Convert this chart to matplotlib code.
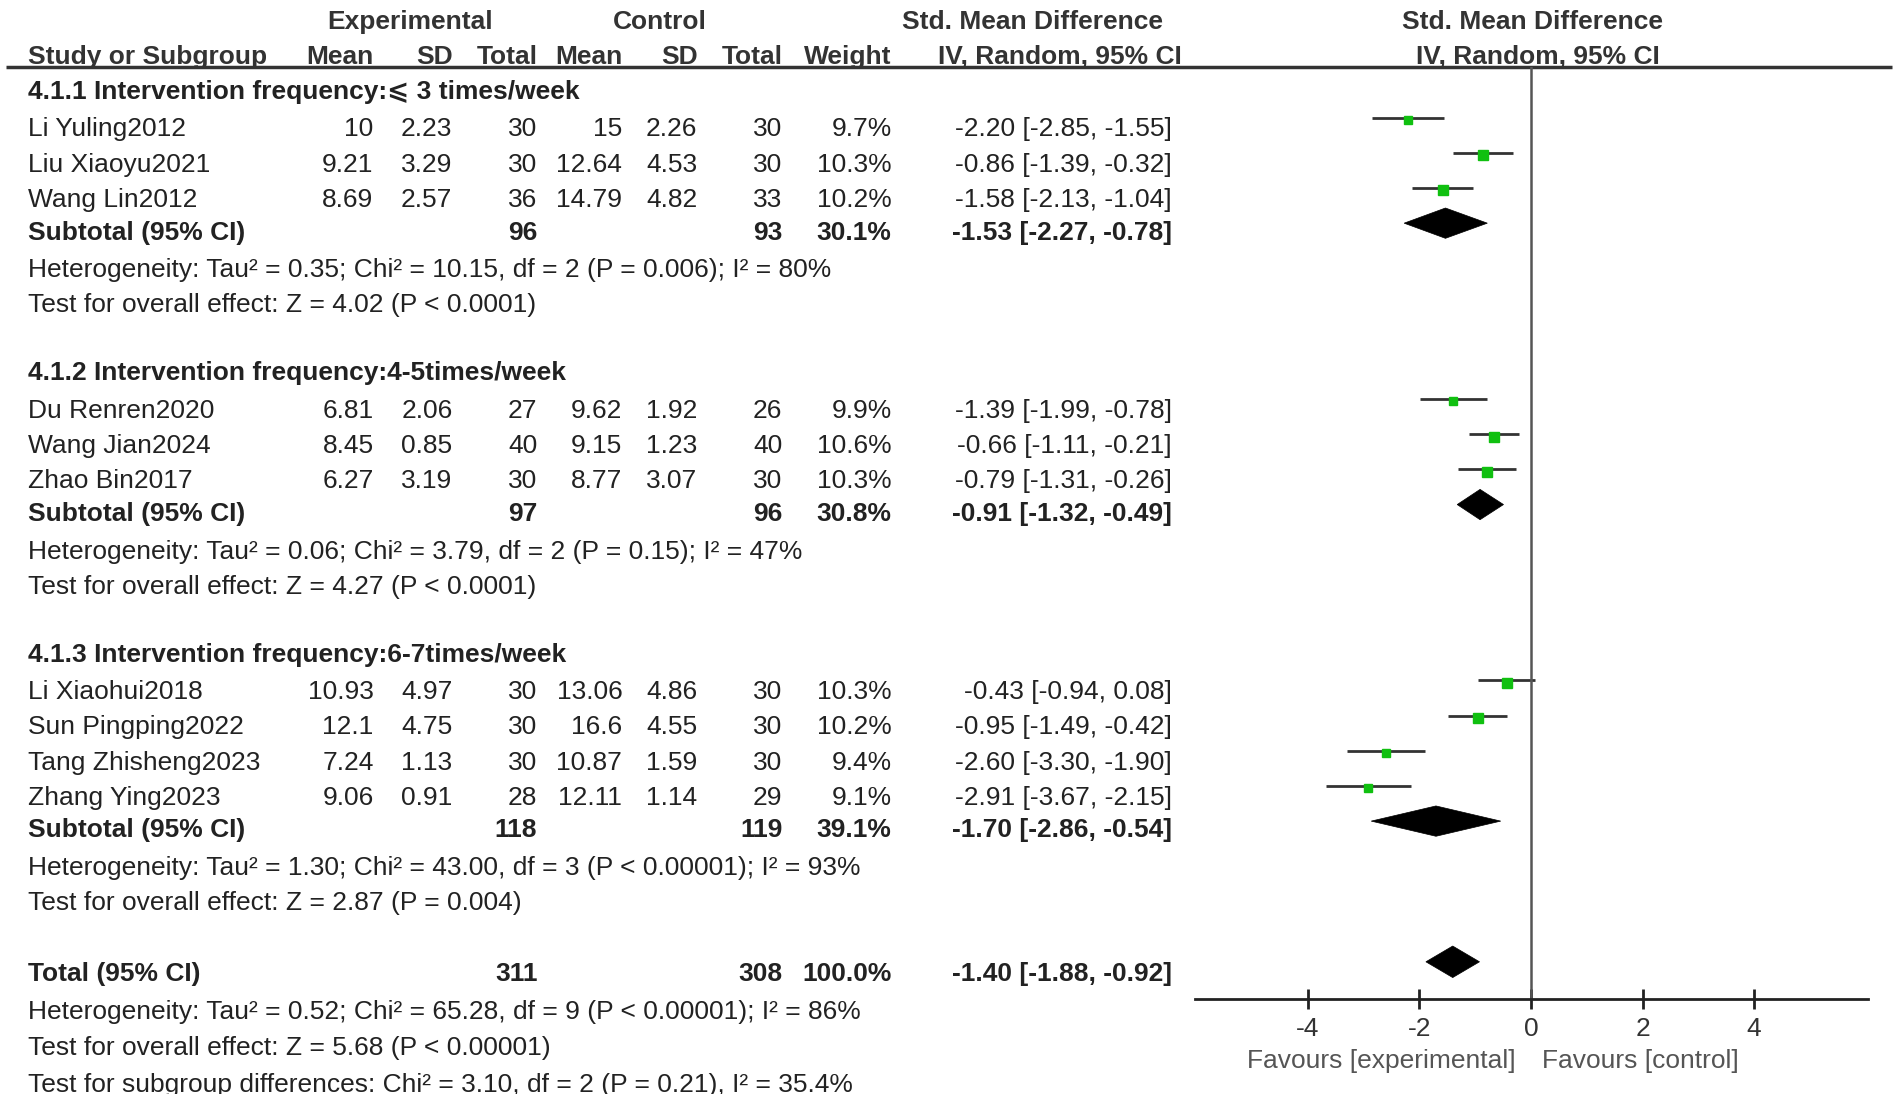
import numpy as np
import matplotlib.pyplot as plt
from matplotlib.patches import Polygon

plt.rcParams['font.family'] = ['Liberation Sans', 'DejaVu Sans']
plt.rcParams['axes.unicode_minus'] = False
FS = 19
TXT = '#222222'
HDR = '#333333'

# ---- data ----
group_names = ["4.1.1 Intervention frequency:\u2a7d 3 times/week",
               "4.1.2 Intervention frequency:4-5times/week",
               "4.1.3 Intervention frequency:6-7times/week"]
studies = ["Li Yuling2012", "Liu Xiaoyu2021", "Wang Lin2012",
           "Du Renren2020", "Wang Jian2024", "Zhao Bin2017",
           "Li Xiaohui2018", "Sun Pingping2022", "Tang Zhisheng2023", "Zhang Ying2023"]
group = [0, 0, 0, 1, 1, 1, 2, 2, 2, 2]
exp_mean = [10, 9.21, 8.69, 6.81, 8.45, 6.27, 10.93, 12.1, 7.24, 9.06]
exp_sd = [2.23, 3.29, 2.57, 2.06, 0.85, 3.19, 4.97, 4.75, 1.13, 0.91]
exp_n = [30, 30, 36, 27, 40, 30, 30, 30, 30, 28]
ctl_mean = [15, 12.64, 14.79, 9.62, 9.15, 8.77, 13.06, 16.6, 10.87, 12.11]
ctl_sd = [2.26, 4.53, 4.82, 1.92, 1.23, 3.07, 4.86, 4.55, 1.59, 1.14]
ctl_n = [30, 30, 33, 26, 40, 30, 30, 30, 30, 29]
weight = [9.7, 10.3, 10.2, 9.9, 10.6, 10.3, 10.3, 10.2, 9.4, 9.1]
smd = [-2.20, -0.86, -1.58, -1.39, -0.66, -0.79, -0.43, -0.95, -2.60, -2.91]
lo = [-2.85, -1.39, -2.13, -1.99, -1.11, -1.31, -0.94, -1.49, -3.30, -3.67]
hi = [-1.55, -0.32, -1.04, -0.78, -0.21, -0.26, 0.08, -0.42, -1.90, -2.15]

sub_exp_n = [96, 97, 118]
sub_ctl_n = [93, 96, 119]
sub_weight = [30.1, 30.8, 39.1]
sub_smd = [-1.53, -0.91, -1.70]
sub_lo = [-2.27, -1.32, -2.86]
sub_hi = [-0.78, -0.49, -0.54]
sub_het = ["Heterogeneity: Tau\u00b2 = 0.35; Chi\u00b2 = 10.15, df = 2 (P = 0.006); I\u00b2 = 80%",
           "Heterogeneity: Tau\u00b2 = 0.06; Chi\u00b2 = 3.79, df = 2 (P = 0.15); I\u00b2 = 47%",
           "Heterogeneity: Tau\u00b2 = 1.30; Chi\u00b2 = 43.00, df = 3 (P < 0.00001); I\u00b2 = 93%"]
sub_test = ["Test for overall effect: Z = 4.02 (P < 0.0001)",
            "Test for overall effect: Z = 4.27 (P < 0.0001)",
            "Test for overall effect: Z = 2.87 (P = 0.004)"]

tot_exp_n, tot_ctl_n, tot_weight = 311, 308, 100.0
tot_smd, tot_lo, tot_hi = -1.40, -1.88, -0.92
tot_het = "Heterogeneity: Tau\u00b2 = 0.52; Chi\u00b2 = 65.28, df = 9 (P < 0.00001); I\u00b2 = 86%"
tot_test = "Test for overall effect: Z = 5.68 (P < 0.00001)"
subgroup_test = "Test for subgroup differences: Chi\u00b2 = 3.10, df = 2 (P = 0.21), I\u00b2 = 35.4%"

ticks = [-4, -2, 0, 2, 4]

# ---- layout (canvas units 1568 x 902) ----
W, H = 1568, 902
COLS = [308, 373, 443, 513, 575, 645, 735, 966]
AX_L, AX_R, AX_Y, HDR_Y = 985, 1540, 824, 55

fig = plt.figure(figsize=(19.02, 10.94), dpi=100)
ax = fig.add_axes([0, 0, 1, 1])
ax.set_xlim(0, W)
ax.set_ylim(H, 0)
ax.axis('off')

fx = fig.add_axes([AX_L / W, 1 - AX_Y / H, (AX_R - AX_L) / W, (AX_Y - HDR_Y) / H])
fx.set_xlim(-6.02, 6.04)
fx.set_ylim(AX_Y, HDR_Y)
fx.patch.set_alpha(0)


def put(x, y, s, ha='left', bold=False, color=TXT):
    ax.text(x, y + 7.5, s, ha=ha, va='baseline', fontsize=FS,
            fontweight='bold' if bold else 'normal', color=color)


def diamond(c, l, r, y, h):
    fx.add_patch(Polygon([[l, y], [c, y - h], [r, y], [c, y + h]], closed=True,
                         facecolor='black', edgecolor='black', lw=0.5))


# headers
put(338, 16, "Experimental", 'center', True, HDR)
put(544, 16, "Control", 'center', True, HDR)
put(851, 16, "Std. Mean Difference", 'center', True, HDR)
put(1263, 16, "Std. Mean Difference", 'center', True, HDR)
put(23, 45, "Study or Subgroup", 'left', True, HDR)
for x, s in zip(COLS[:7], ["Mean", "SD", "Total", "Mean", "SD", "Total", "Weight"]):
    put(x, 45, s, 'right', True, HDR)
put(874, 45, "IV, Random, 95% CI", 'center', True, HDR)
put(1268, 45, "IV, Random, 95% CI", 'center', True, HDR)
ax.plot([5, 1560], [HDR_Y, HDR_Y], color='#333333', lw=2.5, solid_capstyle='butt')

# groups
y = 74
for g in range(len(group_names)):
    put(23, y, group_names[g], bold=True)
    idx = [i for i in range(len(studies)) if group[i] == g]
    for k, i in enumerate(idx):
        yy = y + 31 + 29 * k
        put(23, yy, studies[i])
        vals = [f"{exp_mean[i]:g}", f"{exp_sd[i]:.2f}", f"{exp_n[i]}",
                f"{ctl_mean[i]:g}", f"{ctl_sd[i]:.2f}", f"{ctl_n[i]}",
                f"{weight[i]:.1f}%", f"{smd[i]:.2f} [{lo[i]:.2f}, {hi[i]:.2f}]"]
        for x, s in zip(COLS, vals):
            put(x, yy, s, 'right')
        fx.plot([lo[i], hi[i]], [yy - 8, yy - 8], color='#333333', lw=2, solid_capstyle='butt')
        fx.plot(smd[i], yy - 6, marker='s', ms=6.5 * np.sqrt(weight[i] / 10),
                color='#10c010', mec='#10c010', ls='none')
    ys = yy + 27
    put(23, ys, "Subtotal (95% CI)", bold=True)
    put(COLS[2], ys, f"{sub_exp_n[g]}", 'right', True)
    put(COLS[5], ys, f"{sub_ctl_n[g]}", 'right', True)
    put(COLS[6], ys, f"{sub_weight[g]:.1f}%", 'right', True)
    put(COLS[7], ys, f"{sub_smd[g]:.2f} [{sub_lo[g]:.2f}, {sub_hi[g]:.2f}]", 'right', True)
    diamond(sub_smd[g], sub_lo[g], sub_hi[g], ys - 6, 12.5)
    put(23, ys + 31, sub_het[g])
    put(23, ys + 60, sub_test[g])
    y = ys + 60 + 56
y += 2

# overall
put(23, y, "Total (95% CI)", bold=True)
put(COLS[2], y, f"{tot_exp_n}", 'right', True)
put(COLS[5], y, f"{tot_ctl_n}", 'right', True)
put(COLS[6], y, f"{tot_weight:.1f}%", 'right', True)
put(COLS[7], y, f"{tot_smd:.2f} [{tot_lo:.2f}, {tot_hi:.2f}]", 'right', True)
diamond(tot_smd, tot_lo, tot_hi, y - 8, 13)
put(23, y + 32, tot_het)
put(23, y + 61, tot_test)
put(23, y + 91.5, subgroup_test)

# forest axis
fx.axvline(0, color='#555555', lw=1.8)
for sp in ['top', 'left', 'right']:
    fx.spines[sp].set_visible(False)
fx.spines['bottom'].set_color('#222222')
fx.spines['bottom'].set_linewidth(2)
fx.set_yticks([])
fx.set_xticks(ticks)
fx.set_xticklabels([str(t) for t in ticks])
fx.tick_params(axis='x', direction='inout', length=15, width=2, color='#222222',
               labelsize=FS, labelcolor='#333333', pad=5)
put(1139, 873, "Favours [experimental]", 'center', color='#555555')
put(1352, 873, "Favours [control]", 'center', color='#555555')

fig.savefig('out.png', dpi=100)
